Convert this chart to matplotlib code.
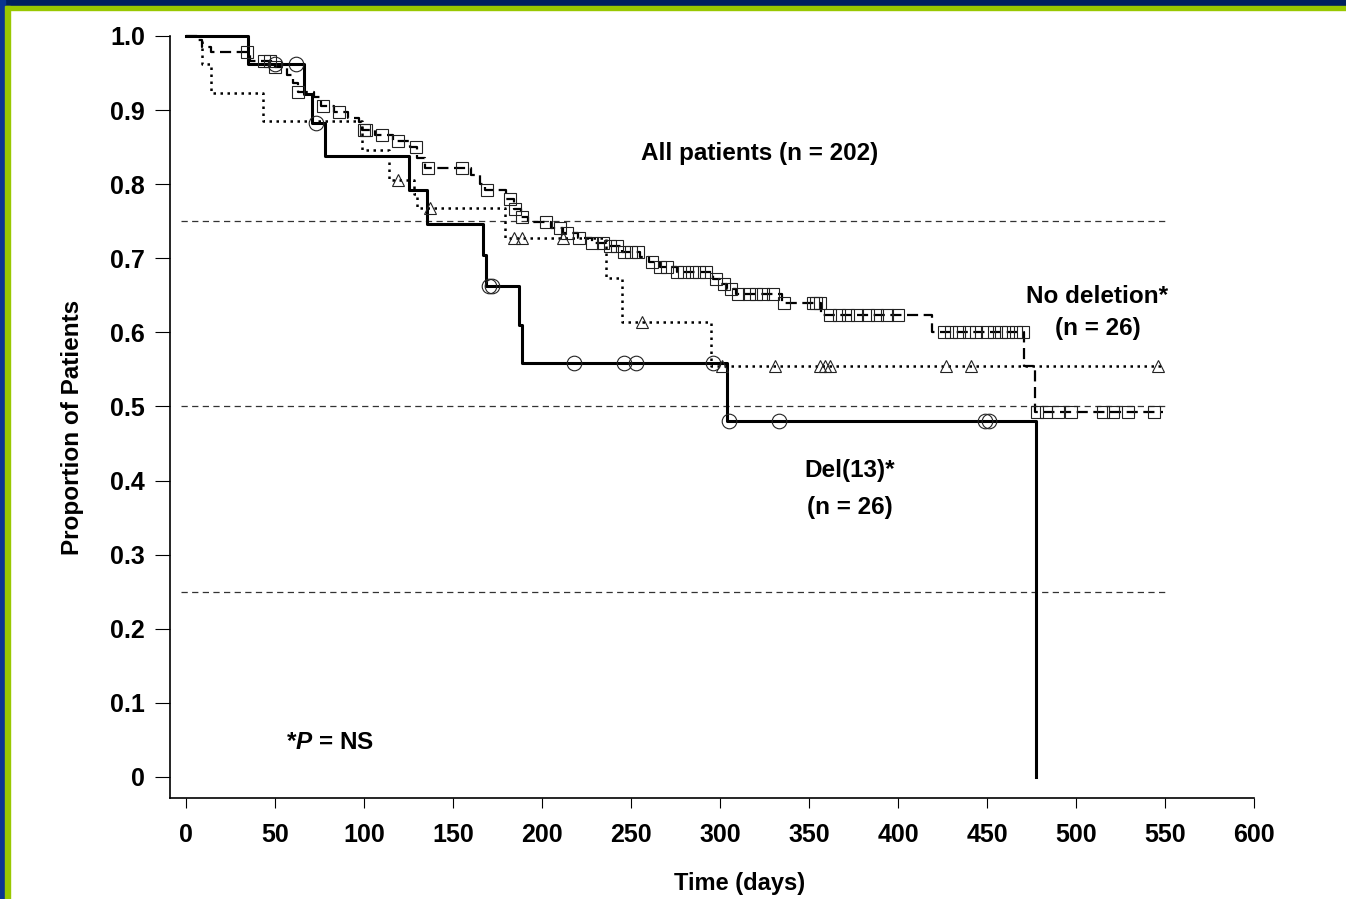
import numpy as np
import matplotlib
matplotlib.use("Agg")
import matplotlib.pyplot as plt
from matplotlib.patches import Rectangle

plt.rcParams['font.family'] = ['Liberation Sans', 'DejaVu Sans']
plt.rcParams['mathtext.fontset'] = 'custom'
plt.rcParams['mathtext.it'] = 'Liberation Sans:italic:bold'
plt.rcParams['mathtext.rm'] = 'Liberation Sans:bold'

# Kaplan-Meier step data: event times (days) and survival after each event
all_t = [0, 6, 9, 14, 36, 50, 57, 60, 63, 72, 76, 83, 91, 97, 99, 106, 116, 126,
         130, 134, 160, 165, 168, 180, 184, 188, 192, 205, 212, 220, 228, 236,
         245, 255, 260, 266, 276, 296, 300, 304, 309, 335, 357, 419, 471, 477, 549]
all_s = [1.0, 0.995, 0.985, 0.979, 0.966, 0.958, 0.947, 0.936, 0.925, 0.917, 0.905,
         0.898, 0.890, 0.884, 0.873, 0.866, 0.858, 0.850, 0.835, 0.822, 0.812, 0.800,
         0.792, 0.780, 0.767, 0.756, 0.749, 0.741, 0.734, 0.727, 0.720, 0.716, 0.709,
         0.702, 0.695, 0.688, 0.681, 0.672, 0.665, 0.658, 0.652, 0.640, 0.623, 0.601,
         0.554, 0.492, 0.492]
all_cens = [34, 44, 47, 50, 63, 77, 86, 100, 101, 110, 119, 129, 136, 155, 169, 182,
            185, 189, 202, 210, 214, 221, 228, 234, 238, 242, 246, 250, 254, 262, 266,
            270, 276, 280, 284, 288, 292, 298, 302, 306, 310, 316, 320, 324, 330, 336,
            352, 354, 356, 362, 367, 372, 377, 383, 388, 394, 400, 426, 430, 434, 440,
            444, 450, 454, 458, 462, 466, 470, 478, 483, 490, 497, 515, 521, 529, 544]

del_t = [0, 35, 66.5, 70.6, 78, 125.5, 135.6, 167, 168.5, 187, 188.6, 303.7, 477.5]
del_s = [1.0, 0.962, 0.922, 0.882, 0.838, 0.792, 0.746, 0.704, 0.662, 0.610, 0.558,
         0.480, 0.0]
del_cens = [50, 62, 73, 170, 172, 218, 246, 253, 296, 305, 333, 449, 451]

nodel_t = [0, 9, 14, 43, 99, 114, 128, 130, 179, 236, 245, 295, 548]
nodel_s = [1.0, 0.962, 0.923, 0.885, 0.846, 0.806, 0.787, 0.768, 0.727, 0.673,
           0.614, 0.554, 0.554]
nodel_cens = [119, 137, 184, 189, 212, 256, 301, 331, 356, 359, 362, 427, 441, 546]

ref_levels = [0.75, 0.5, 0.25]
yticks = [0, 0.1, 0.2, 0.3, 0.4, 0.5, 0.6, 0.7, 0.8, 0.9, 1.0]
ylabels = ['0', '0.1', '0.2', '0.3', '0.4', '0.5', '0.6', '0.7', '0.8', '0.9', '1.0']
xticks = list(range(0, 601, 50))


def at(t, s, c):
    # survival value of the step curve at each censoring time
    t = np.asarray(t)
    s = np.asarray(s)
    idx = np.searchsorted(t, c, side='right') - 1
    return s[idx]


fig = plt.figure(figsize=(13.46, 8.99), dpi=100)
fig.patch.set_facecolor('white')

# slide frame
fig.add_artist(Rectangle((0, 1 - 6 / 899), 1, 6 / 899, transform=fig.transFigure,
                         color='#00205e', zorder=0))
fig.add_artist(Rectangle((0, 1 - 10 / 899), 1, 4 / 899, transform=fig.transFigure,
                         color='#99c800', zorder=0))
fig.add_artist(Rectangle((0, 0), 5 / 1346, 1, transform=fig.transFigure,
                         color='#0a3590', zorder=0))
fig.add_artist(Rectangle((5 / 1346, 0), 5 / 1346, 1 - 6 / 899, transform=fig.transFigure,
                         color='#99c800', zorder=0))

ax = fig.add_axes([0.1263, 0.1127, 0.8186, 0.8555])
ax.set_xlim(-9, 610)
ax.set_ylim(-0.028, 1.01)

for lv in ref_levels:
    ax.plot([-3, 550], [lv, lv], color='#333333', lw=0.9, ls=(0, (5, 3.5)), zorder=1)

ax.step(all_t, all_s, where='post', color='black', lw=1.6, ls=(0, (5, 2.5)), zorder=3)
ax.plot(all_cens, at(all_t, all_s, all_cens), ls='none', marker='s', ms=8.5,
        mfc='none', mec='#222222', mew=0.8, zorder=4)

ax.step(nodel_t, nodel_s, where='post', color='black', lw=1.8, ls=(0, (1, 1.8)), zorder=3)
ax.plot(nodel_cens, at(nodel_t, nodel_s, nodel_cens), ls='none', marker='^', ms=8,
        mfc='none', mec='#222222', mew=0.8, zorder=4)

ax.step(del_t, del_s, where='post', color='black', lw=2.2, zorder=3)
ax.plot(del_cens, at(del_t, del_s, del_cens), ls='none', marker='o', ms=10.5,
        mfc='none', mec='#222222', mew=0.8, zorder=4)

ax.spines['top'].set_visible(False)
ax.spines['right'].set_visible(False)
ax.spines['left'].set_bounds(-0.028, 1.0)
ax.spines['bottom'].set_bounds(-9, 600)
ax.spines['left'].set_linewidth(1.2)
ax.spines['bottom'].set_linewidth(1.2)

ax.set_yticks(yticks)
ax.set_yticklabels(ylabels)
ax.set_xticks(xticks)
ax.tick_params(axis='y', direction='out', length=11, width=0.8, pad=7, labelsize=18)
ax.tick_params(axis='x', direction='out', length=7, width=0.8, pad=11, labelsize=18)
for lab in ax.get_xticklabels() + ax.get_yticklabels():
    lab.set_fontweight('bold')

ax.set_ylabel('Proportion of Patients', fontsize=17.5, fontweight='bold')
ax.yaxis.set_label_coords(-0.078, 0.481)
ax.set_xlabel('Time (days)', fontsize=17, fontweight='bold')
ax.xaxis.set_label_coords(0.517, -0.097)

ax.text(322, 0.842, 'All patients (n = 202)', ha='center', va='center',
        fontsize=17.5, fontweight='bold')
ax.text(512, 0.648, 'No deletion*', ha='center', va='center', fontsize=17.5,
        fontweight='bold')
ax.text(512, 0.605, '(n = 26)', ha='center', va='center', fontsize=17.5,
        fontweight='bold')
ax.text(373, 0.414, 'Del(13)*', ha='center', va='center', fontsize=17.5,
        fontweight='bold')
ax.text(373, 0.363, '(n = 26)', ha='center', va='center', fontsize=17.5,
        fontweight='bold')
ax.text(56, 0.046, '*$\\mathit{P}$ = NS', ha='left', va='center', fontsize=17.5,
        fontweight='bold')

fig.savefig('out.png', dpi=100)
